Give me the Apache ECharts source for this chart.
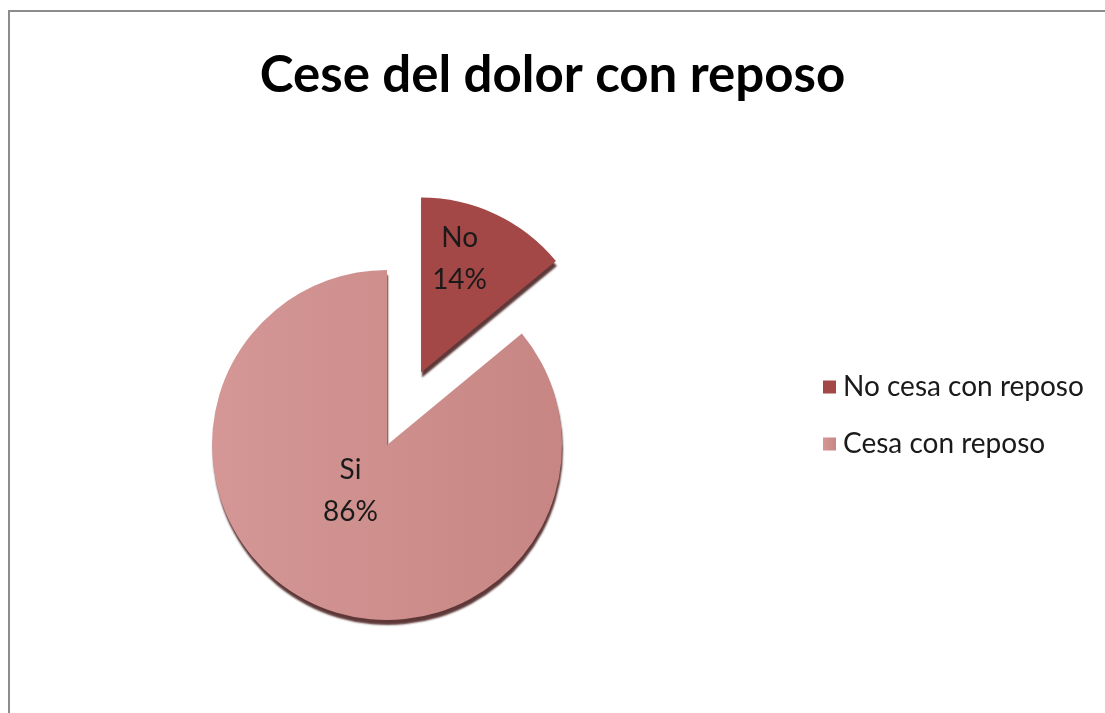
<!DOCTYPE html>
<html>
<head>
<meta charset="utf-8">
<script src="https://cdn.jsdelivr.net/npm/echarts@6/dist/echarts.min.js"></script>
<style>
  html, body { margin: 0; padding: 0; background: #fff; overflow: hidden; }
  #frame { position: absolute; left: 8px; top: 10px; width: 2000px; height: 2000px; border-left: 2px solid #8c8c8c; border-top: 2px solid #8c8c8c; }
  #chart { position: absolute; left: 0; top: 0; width: 1105px; height: 713px; }
</style>
</head>
<body>
<div id="frame"></div>
<div id="chart"></div>
<script>
// Answers to "does the pain stop with rest?"
const titleText = 'Cese del dolor con reposo';
const legendNames = ['No cesa con reposo', 'Cesa con reposo'];
const sliceLabels = ['No', 'Si'];
const sliceValues = [14, 86];
const sliceColors = ['#A34846', '#CE8E8C'];

const chart = echarts.init(document.getElementById('chart'), null, { renderer: 'canvas' });

const labelFont = { fontFamily: 'Lato', fontSize: 28, color: '#1a1a1a', lineHeight: 42 };

// the small slice is pulled out of the pie and its label sits near its rim
const labelShift = [[0, -32], [2, -36]];

const data = sliceValues.map((v, i) => ({
  name: legendNames[i],
  value: v,
  short: sliceLabels[i],
  selected: i === 0,
  itemStyle: i === 0
    ? { color: sliceColors[0] }
    : {
        color: {
          type: 'linear', x: 0, y: 0, x2: 1, y2: 0,
          colorStops: [
            { offset: 0, color: '#D49795' },
            { offset: 1, color: '#C78684' }
          ]
        }
      },
  label: { offset: labelShift[i] },
  select: { label: { offset: labelShift[i] }, itemStyle: i === 0 ? { color: sliceColors[0] } : {} }
}));

chart.setOption({
  animation: false,
  title: {
    text: titleText,
    left: 'center',
    top: 45,
    textStyle: { fontFamily: 'Lato', fontWeight: 'bold', fontSize: 51, color: '#000' }
  },
  legend: {
    orient: 'vertical',
    left: 818,
    top: 368,
    icon: 'rect',
    itemWidth: 13,
    itemHeight: 13,
    itemGap: 29,
    data: legendNames,
    selectedMode: false,
    textStyle: { fontFamily: 'Lato', fontSize: 28, color: '#1a1a1a', padding: [0, 0, 0, 2] }
  },
  series: [{
    type: 'pie',
    center: [387, 445],
    radius: 175,
    startAngle: 90,
    clockwise: true,
    selectedMode: 'single',
    selectedOffset: 80,
    avoidLabelOverlap: false,
    emphasis: { disabled: true },
    itemStyle: {
      shadowColor: 'rgba(85,45,45,0.95)',
      shadowBlur: 2,
      shadowOffsetY: 5,
      shadowOffsetX: 1
    },
    label: {
      show: true,
      position: 'inside',
      formatter: p => p.data.short + '\n' + p.value + '%',
      ...labelFont
    },
    labelLine: { show: false },
    data: data
  }]
});
</script>
</body>
</html>
